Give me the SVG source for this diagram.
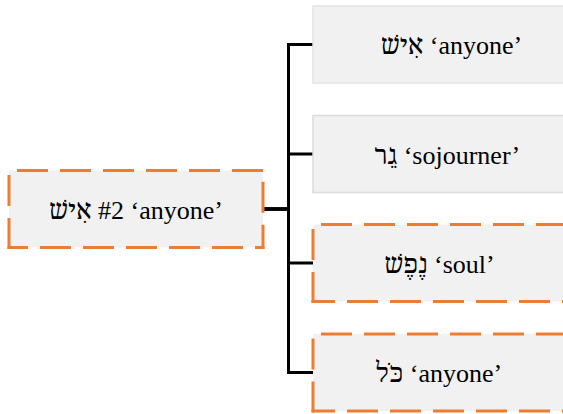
<svg xmlns="http://www.w3.org/2000/svg" width="563" height="414" viewBox="0 0 563 414">
  <style>
    .box { fill: #F1F1F1; }
    .plain { stroke: #E4E4E4; stroke-width: 1.5; }
    .dash { fill: none; stroke: #ED7D31; stroke-width: 3; stroke-dasharray: 31 12; }
    .lbl { font-size: 26px; fill: #000; text-anchor: middle; }
    .he { font-family: 'Noto Serif Hebrew', 'Liberation Serif', 'DejaVu Sans', serif; }
    .la { font-family: 'Liberation Serif', serif; }
    .wire { fill: none; stroke: #000; stroke-width: 3; stroke-linejoin: miter; }
  </style>

  <!-- connectors: root to each sense -->
  <g id="connectors">
    <path class="wire" d="M263,209 H288.5 V44.5 H313"/>
    <path class="wire" d="M263,209 H288.5 V154 H313"/>
    <path class="wire" d="M263,209 H288.5 V263 H313"/>
    <path class="wire" d="M263,209 H288.5 V372.5 H313"/>
  </g>

  <!-- root node -->
  <g id="root">
    <rect class="box" x="9" y="170.5" width="254" height="77"/>
    <line class="dash" x1="7.5" y1="170.5" x2="264.5" y2="170.5" stroke-dashoffset="33.5"/>
    <line class="dash" x1="263" y1="170.5" x2="263" y2="249" stroke-dashoffset="31.8"/>
    <line class="dash" x1="264.5" y1="247.5" x2="7.5" y2="247.5" stroke-dashoffset="21.5"/>
    <line class="dash" x1="9" y1="249" x2="9" y2="169" stroke-dashoffset="0"/>
    <text class="lbl" x="136" y="218.5"><tspan class="he">אִישׁ</tspan><tspan class="la">&#x200E; #2 ‘anyone’</tspan></text>
  </g>

  <!-- sense 1 -->
  <g id="ish">
    <rect class="box plain" x="313" y="6" width="280" height="77"/>
    <text class="lbl" x="451.5" y="54"><tspan class="he">אִישׁ</tspan><tspan class="la"> ‘anyone’</tspan></text>
  </g>

  <!-- sense 2 -->
  <g id="ger">
    <rect class="box" x="313" y="115.5" width="280" height="77" stroke="#DCDCDC" stroke-width="1.5"/>
    <text class="lbl" x="447.5" y="163.5"><tspan class="he">גֵר</tspan><tspan class="la"> ‘sojourner’</tspan></text>
  </g>

  <!-- sense 3 -->
  <g id="nefesh">
    <rect class="box" x="313" y="224.5" width="280" height="77"/>
    <line class="dash" x1="311.5" y1="224.5" x2="600" y2="224.5" stroke-dashoffset="33.5"/>
    <line class="dash" x1="311.5" y1="301.5" x2="600" y2="301.5" stroke-dashoffset="7.5"/>
    <line class="dash" x1="313" y1="303" x2="313" y2="223" stroke-dashoffset="0"/>
    <text class="lbl" x="439.5" y="273"><tspan class="he">נֶפֶשׁ</tspan><tspan class="la"> ‘soul’</tspan></text>
  </g>

  <!-- sense 4 -->
  <g id="kol">
    <rect class="box" x="313" y="334" width="280" height="77"/>
    <line class="dash" x1="311.5" y1="334" x2="600" y2="334" stroke-dashoffset="33.5"/>
    <line class="dash" x1="311.5" y1="411" x2="600" y2="411" stroke-dashoffset="7.5"/>
    <line class="dash" x1="313" y1="412.5" x2="313" y2="332.5" stroke-dashoffset="0"/>
    <text class="lbl" x="439" y="382"><tspan class="he">כֹּל</tspan><tspan class="la"> ‘anyone’</tspan></text>
  </g>
</svg>
